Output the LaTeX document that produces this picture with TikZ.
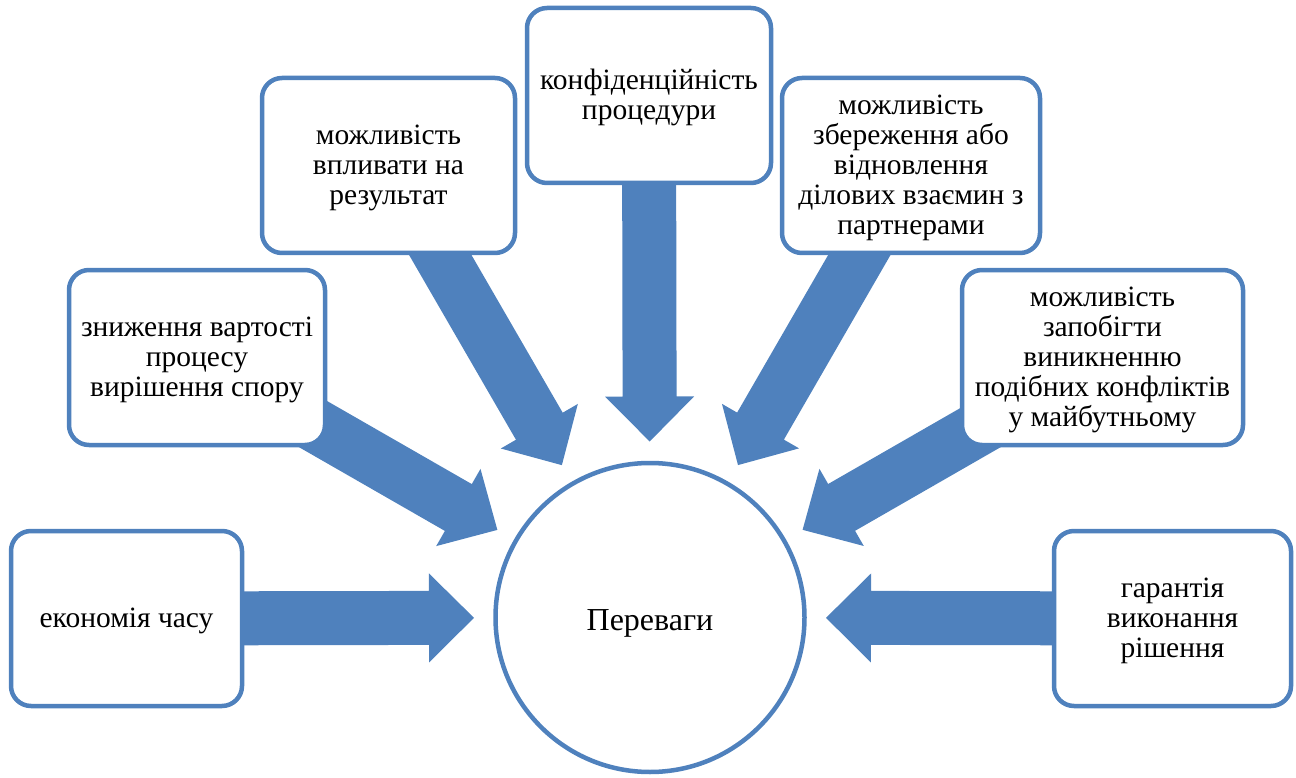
\documentclass[tikz,border=0pt]{standalone}
\usepackage{fontspec}
\setmainfont{Liberation Serif}
\usetikzlibrary{calc}
\definecolor{accent}{HTML}{4F81BD}
\pgfdeclarelayer{bg}
\pgfsetlayers{bg,main}
\newcommand\blockarrow[2]{%
  \coordinate (#1-tip) at ($(#2.center)!176pt!(#1.center)$);
  \coordinate (#1-base) at ($(#2.center)!221pt!(#1.center)$);
  \fill[arrowfill] ($(#1.center)!27pt!90:(#2.center)$)
     -- ($(#1-base)!27pt!90:(#1-tip)$)
     -- ($(#1-base)!44.5pt!90:(#1-tip)$)
     -- (#1-tip)
     -- ($(#1-base)!44.5pt!-90:(#1-tip)$)
     -- ($(#1-base)!27pt!-90:(#1-tip)$)
     -- ($(#1.center)!27pt!-90:(#2.center)$) -- cycle;}
\begin{document}
\begin{tikzpicture}[x=1pt,y=-1pt,
  box/.style={draw=accent, line width=4.5pt, fill=white, rounded corners=20pt,
    minimum height=175pt, align=center, inner sep=2pt,
    font=\fontsize{29.5}{30}\selectfont, text depth=8pt},
  nlines/.style={text height=25.5pt+(#1-1)*30pt},
  hub/.style={circle, draw=accent, line width=4.5pt, fill=white,
    minimum size=309pt, font=\fontsize{32}{36}\selectfont,
    text height=33pt, text depth=8pt},
  arrowfill/.style={fill=accent}]
\useasboundingbox (0,0) rectangle (1296,778);
\node[hub] (hub) at (650,617.5) {Переваги};
\node[box, nlines=1, minimum width=231pt] (eco) at (126.5,618.5) {економія часу};
\node[box, nlines=3, minimum width=256pt] (zn) at (197,357.5) {зниження вартості\\процесу\\вирішення спору};
\node[box, nlines=3, minimum width=253pt] (vp) at (388.5,165.5) {можливість\\впливати на\\результат};
\node[box, nlines=2, minimum width=244pt] (konf) at (649,95.5) {конфіденційність\\процедури};
\node[box, nlines=5, minimum width=258pt] (zb) at (911,165.5) {можливість\\збереження або\\відновлення\\ділових взаємин з\\партнерами};
\node[box, nlines=5, minimum width=281pt] (zap) at (1102.5,357.5) {можливість\\запобігти\\виникненню\\подібних конфліктів\\у майбутньому};
\node[box, nlines=3, minimum width=237pt] (gar) at (1172.5,618.5) {гарантія\\виконання\\рішення};
\begin{pgfonlayer}{bg}
\blockarrow{eco}{hub}
\blockarrow{zn}{hub}
\blockarrow{vp}{hub}
\blockarrow{konf}{hub}
\blockarrow{zb}{hub}
\blockarrow{zap}{hub}
\blockarrow{gar}{hub}
\end{pgfonlayer}
\end{tikzpicture}
\end{document}
